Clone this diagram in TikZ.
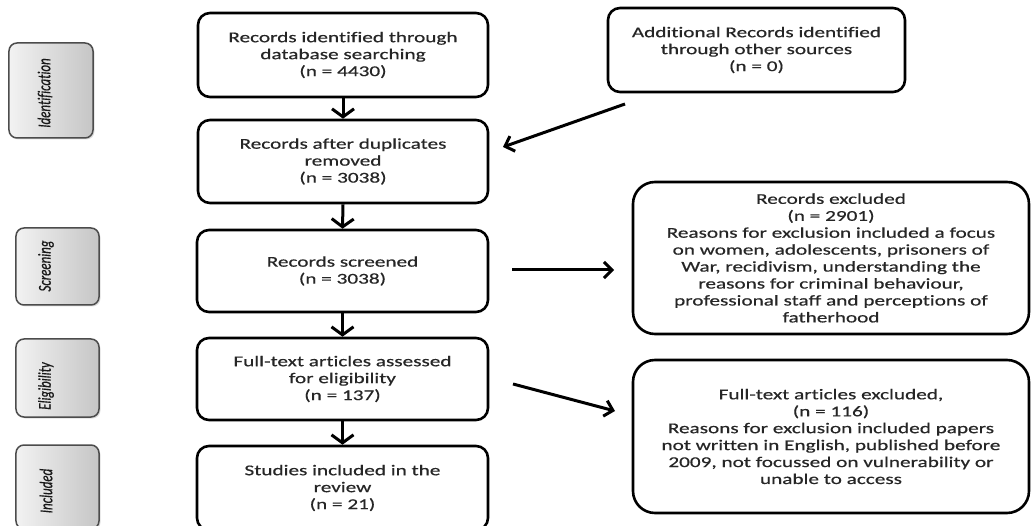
\documentclass[tikz,border=0pt]{standalone}
\usepackage{fontspec}
\setmainfont{Carlito}[FakeStretch=1.42,FakeBold=0.5,Ligatures=NoCommon]
\newfontfamily\phasefont{Carlito}[FakeBold=0.6,Ligatures=NoCommon]
\usetikzlibrary{arrows.meta,shadows}
\tikzset{
  mainbox/.style={draw=black, line width=2.6bp, rounded corners=12bp, align=center,
    text=black!85, font=\fontsize{15}{17}\selectfont, inner sep=0pt},
  bigbox/.style={mainbox, rounded corners=22bp},
  phasebox/.style={draw=black!70, line width=1.5bp, rounded corners=8bp,
    left color=gray!10, right color=gray!45, drop shadow={opacity=0.25, shadow xshift=1.5bp, shadow yshift=-1.5bp}},
  phaselabel/.style={rotate=90, text=black!90, inner sep=0pt},
  flow/.style={line width=3bp, -{Straight Barb[length=8bp,width=22bp]}},
  side/.style={line width=3bp, -{Straight Barb[length=8bp,width=16bp]}}
}
\newcommand{\phasetext}[1]{\scalebox{1}[1.4]{\phasefont\fontsize{13}{15}\selectfont\itshape #1}}
\begin{document}
\begin{tikzpicture}[x=1bp,y=-1bp]
\clip (0,0) rectangle (1032,526);
\fill[white] (0,0) rectangle (1032,526);

% phase boxes
\node[phasebox, minimum width=84bp, minimum height=95bp] (p1) at (51,90.5) {};
\node[phasebox, minimum width=83bp, minimum height=77bp] (p2) at (57.5,266.5) {};
\node[phasebox, minimum width=83bp, minimum height=78bp] (p3) at (57.5,378) {};
\node[phasebox, minimum width=83bp, minimum height=84bp] (p4) at (57.5,487) {};
\node[phaselabel] (l1) at (45,93) {\phasetext{Identification}};
\node[phaselabel] (l2) at (46,266) {\phasetext{Screening}};
\node[phaselabel] (l3) at (46,386) {\phasetext{Eligibility}};
\node[phaselabel] (l4) at (46,491) {\phasetext{Included}};

% main column
\node[mainbox, minimum width=290bp, minimum height=84bp] (b1) at (343,55)
  {Records identified through\\database searching\\(n = 4430)};
\node[mainbox, minimum width=290bp, minimum height=83bp] (b2) at (343,161.5)
  {Records after duplicates\\removed\\(n = 3038)};
\node[mainbox, minimum width=291bp, minimum height=82bp] (b3) at (342.5,271)
  {Records screened\\(n = 3038)};
\node[mainbox, minimum width=291bp, minimum height=82bp] (b4) at (342.5,379)
  {Full-text articles assessed\\for eligibility\\(n = 137)};
\node[mainbox, minimum width=291bp, minimum height=84bp] (b5) at (342.5,488)
  {Studies included in the\\review\\(n = 21)};

% right column
\node[mainbox, minimum width=297bp, minimum height=84bp] (a) at (756.5,50)
  {Additional Records identified\\through other sources\\(n = 0)};
\node[bigbox, minimum width=396bp, minimum height=152bp] (e1) at (831,258)
  {Records excluded\\(n = 2901)\\Reasons for exclusion included a focus\\on women, adolescents, prisoners of\\War, recidivism, understanding the\\reasons for criminal behaviour,\\professional staff and perceptions of\\fatherhood};
\node[bigbox, minimum width=396bp, minimum height=153bp] (e2) at (831,436.5)
  {Full-text articles excluded,\\(n = 116)\\Reasons for exclusion included papers\\not written in English, published before\\2009, not focussed on vulnerability or\\unable to access};

% connectors
\draw[flow] (b1.south) -- (b2.north);
\draw[flow] (b2.south) -- (b3.north);
\draw[flow] (b3.south) -- (b4.north);
\draw[flow] (b4.south) -- (b5.north);

\coordinate (a1) at (625,104);
\coordinate (a2) at (503,147);
\draw[side] (a1) -- (a2);

\coordinate (s1) at (512,270);
\coordinate (s2) at (614,270);
\draw[side] (s1) -- (s2);

\coordinate (t1) at (513,384);
\coordinate (t2) at (615,411);
\draw[side] (t1) -- (t2);
\end{tikzpicture}
\end{document}
